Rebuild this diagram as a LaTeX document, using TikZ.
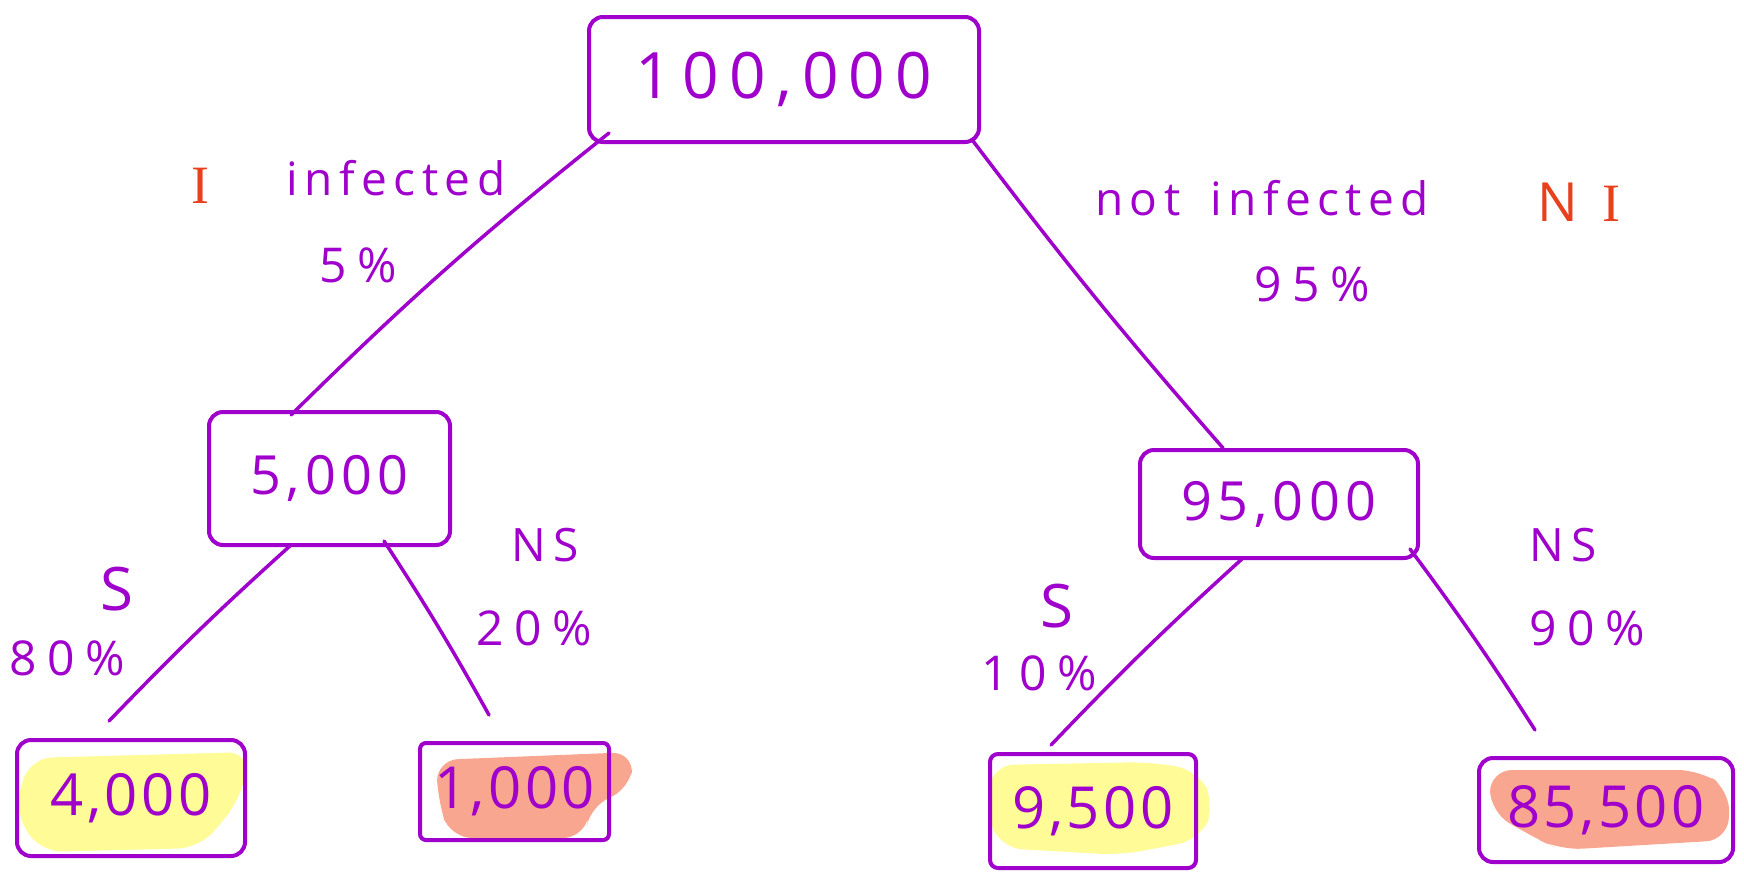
\documentclass[tikz,border=0pt]{standalone}
\usepackage{fontspec}
\setmainfont{Open Sans}
\newfontfamily\barI{Liberation Serif}
\definecolor{ink}{HTML}{A000CC}
\definecolor{redink}{HTML}{E8401C}
\definecolor{hlyellow}{HTML}{FFFB96}
\definecolor{hlsalmon}{HTML}{F8A68F}
\tikzset{
  box/.style={draw=ink, line width=4pt, rounded corners=14pt, inner sep=0pt},
  big/.style={text=ink, font=\fontsize{64}{70}\selectfont\addfontfeature{LetterSpace=16}},
  mid/.style={text=ink, font=\fontsize{54}{60}\selectfont\addfontfeature{LetterSpace=10}},
  leaf/.style={text=ink, font=\fontsize{58}{64}\selectfont\addfontfeature{LetterSpace=6}},
  lbl/.style={text=ink, font=\fontsize{46}{52}\selectfont\addfontfeature{LetterSpace=14}},
  pct/.style={text=ink, font=\fontsize{48}{54}\selectfont\addfontfeature{LetterSpace=22}},
  bigS/.style={text=ink, font=\fontsize{60}{66}\selectfont},
  redlbl/.style={text=redink, font=\fontsize{54}{60}\selectfont},
  edge/.style={draw=ink, line width=3.5pt, line cap=round},
  marker/.style={line width=0pt, rounded corners=22pt}
}
\begin{document}
\begin{tikzpicture}[x=1pt, y=-1pt]
\useasboundingbox (0,0) rectangle (1744,873);

% marker highlights behind the leaf totals
\fill[hlyellow, marker] (30,758) -- (250,752) -- (240,800) -- (200,848) -- (40,852) -- (14,810) -- cycle;
\fill[hlsalmon, marker] (436,760) -- (634,752) -- (630,790) -- (590,805) -- (585,838) -- (450,838) -- (438,800) -- cycle;
\fill[hlyellow, marker] (992,765) -- (1150,762) -- (1198,770) -- (1215,805) -- (1200,840) -- (1120,855) -- (1000,848) -- (986,810) -- cycle;
\fill[hlsalmon, marker] (1490,770) -- (1700,770) -- (1730,790) -- (1728,840) -- (1560,850) -- (1535,838) -- (1490,812) -- cycle;

% totals
\node[box, big, minimum width=390pt, minimum height=125pt] (root) at (784,79.5) {100,000};
\node[box, mid, minimum width=241pt, minimum height=133pt] (L) at (329.5,478.5) {5,000};
\node[box, mid, minimum width=278pt, minimum height=108pt] (R) at (1279,504) {95,000};
\node[box, leaf, minimum width=228pt, minimum height=116pt] (A) at (131,798) {4,000};
\node[box, leaf, minimum width=189pt, minimum height=97pt, rounded corners=6pt] (B) at (514.5,791.5) {1,000};
\node[box, leaf, minimum width=206pt, minimum height=114pt, rounded corners=8pt] (C) at (1093,811) {9,500};
\node[box, leaf, minimum width=254pt, minimum height=104pt] (D) at (1606,810) {85,500};

% branches
\draw[edge] ([xshift=-175pt, yshift=11pt]root.south) to[bend right=3] ([xshift=-38.5pt, yshift=-5pt]L.north);
\draw[edge] ([xshift=189pt, yshift=3pt]root.south) to[bend right=2] ([xshift=-56pt]R.north);
\draw[edge] ([xshift=-38.5pt, yshift=2pt]L.south) to[bend right=2] ([xshift=-22pt, yshift=17pt]A.north);
\draw[edge] ([xshift=54.5pt, yshift=6pt]L.south) to[bend left=2] ([xshift=-25.5pt, yshift=26pt]B.north);
\draw[edge] ([xshift=-36pt, yshift=2pt]R.south) to[bend right=2] ([xshift=-42pt, yshift=7pt]C.north);
\draw[edge] ([xshift=131pt, yshift=11pt]R.south) to[bend left=2] ([xshift=-71pt, yshift=26pt]D.north);

% branch labels
\node[redlbl] (tI) at (200,186) {\barI I};
\node[lbl] (tinf) at (396,178) {infected};
\node[pct] (p5) at (358,265) {5\%};
\node[lbl] (tninf) at (1262,198) {not\hspace{30pt}infected};
\node[redlbl] (tNI) at (1579,202) {N\hspace{24pt}{\barI I}};
\node[pct] (p95) at (1312,284) {95\%};
\node[bigS] (sA) at (117,589) {S};
\node[pct] (p80) at (67,658) {80\%};
\node[lbl] (nsB) at (545,545) {N\hspace{8pt}S};
\node[pct] (p20) at (534,628) {20\%};
\node[bigS] (sC) at (1057,606) {S};
\node[pct] (p10) at (1039,673) {10\%};
\node[lbl] (nsD) at (1563,545) {N\hspace{8pt}S};
\node[pct] (p90) at (1587,628) {90\%};
\end{tikzpicture}
\end{document}
